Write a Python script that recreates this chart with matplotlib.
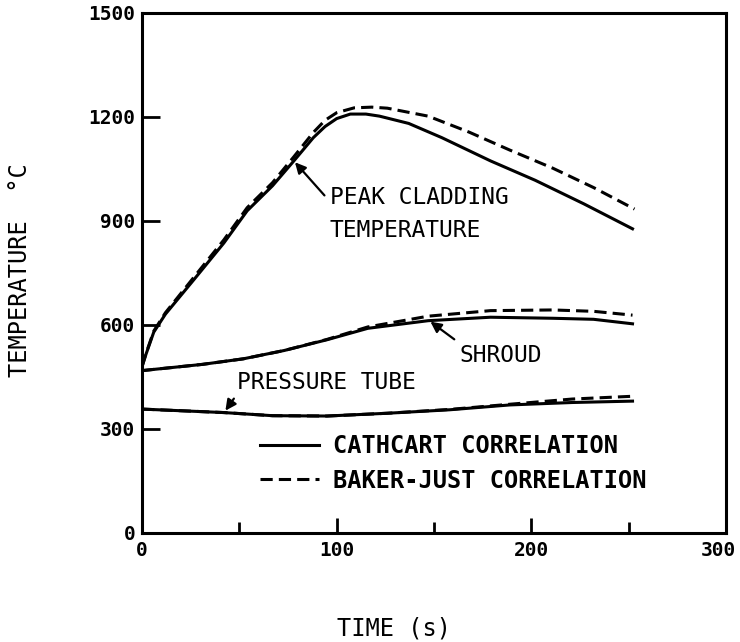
import matplotlib
matplotlib.use("Agg")
import matplotlib.pyplot as plt
import matplotlib.transforms as mtransforms
from matplotlib.ticker import MultipleLocator

# ---- DATA ----
# peak cladding temperature
peak_t = [0, 2, 6, 12, 27, 42, 54, 67, 78, 88, 94, 100, 107, 115, 122, 137, 154, 179, 202, 227, 252]
peak_cathcart = [480, 515, 579, 631, 733, 836, 929, 1001, 1073, 1140, 1172, 1195, 1208, 1208, 1202,
                 1181, 1140, 1073, 1017, 949, 877]
peak_bj_t = [0, 2, 6, 12, 27, 42, 54, 67, 78, 88, 94, 100, 109, 118, 126, 147, 168, 189, 211, 232, 253]
peak_bakerjust = [480, 517, 582, 635, 740, 845, 938, 1010, 1085, 1155, 1190, 1212, 1226, 1228, 1225,
                  1202, 1156, 1104, 1052, 996, 934]

# shroud
shroud_t = [0, 31, 52, 73, 95, 116, 147, 179, 211, 232, 252]
shroud_cathcart = [468, 486, 502, 526, 557, 590, 612, 622, 619, 616, 603]
shroud_bj_t = [0, 31, 52, 73, 95, 116, 147, 179, 211, 232, 252]
shroud_bakerjust = [468, 486, 502, 526, 558, 594, 625, 641, 643, 639, 628]

# pressure tube
ptube_t = [0, 42, 67, 95, 126, 158, 189, 221, 252]
ptube_cathcart = [357, 347, 338, 337, 345, 355, 369, 376, 380]
ptube_bj_t = [0, 42, 67, 95, 126, 158, 189, 221, 252]
ptube_bakerjust = [357, 347, 338, 337, 345, 356, 371, 386, 394]

x_ticks = [0, 100, 200, 300]
y_ticks = [0, 300, 600, 900, 1200, 1500]

MONO = "DejaVu Sans Mono"


def main():
    fig = plt.figure(figsize=(7.4, 6.42), dpi=100)
    ax = fig.add_axes([0.192, 0.170, 0.789, 0.810])

    lw = 2.2
    dash = (4, 2)
    ax.plot(peak_t, peak_cathcart, color="black", lw=lw, label="CATHCART CORRELATION")
    ax.plot(peak_bj_t, peak_bakerjust, color="black", lw=lw, dashes=dash,
            label="BAKER-JUST CORRELATION")
    ax.plot(shroud_t, shroud_cathcart, color="black", lw=lw)
    ax.plot(shroud_bj_t, shroud_bakerjust, color="black", lw=lw, dashes=dash)
    ax.plot(ptube_t, ptube_cathcart, color="black", lw=lw)
    ax.plot(ptube_bj_t, ptube_bakerjust, color="black", lw=lw, dashes=dash)

    ax.set_xlim(0, 300)
    ax.set_ylim(0, 1500)

    for s in ax.spines.values():
        s.set_linewidth(2.2)

    ax.set_xticks(x_ticks)
    ax.set_yticks(y_ticks)
    ax.xaxis.set_minor_locator(MultipleLocator(50))
    ax.tick_params(axis="x", which="major", direction="in", length=11, width=2, pad=6,
                   labelsize=14)
    ax.tick_params(axis="x", which="minor", direction="in", length=8, width=2)
    ax.tick_params(axis="y", which="major", direction="in", length=13, width=2, pad=5,
                   labelsize=14)
    ax.tick_params(top=False, right=False)
    for lab in ax.get_xticklabels() + ax.get_yticklabels():
        lab.set_fontfamily(MONO)
        lab.set_fontweight("bold")

    # the "300" label sits at the figure edge; pull it in a little
    last = ax.xaxis.get_major_ticks()[-1].label1
    last.set_horizontalalignment("right")
    last.set_transform(last.get_transform() +
                       mtransforms.ScaledTranslation(7 / 72, 0, fig.dpi_scale_trans))

    ax.set_xlabel("TIME (s)", fontfamily=MONO, fontsize=17, va="center")
    ax.xaxis.set_label_coords(0.431, -0.183)
    ax.set_ylabel("TEMPERATURE  °C", fontfamily=MONO, fontsize=17, va="center")
    ax.yaxis.set_label_coords(-0.209, 0.506)

    # ---- ANNOTATIONS ----
    arrow = dict(arrowstyle="-|>", color="black", lw=1.6, mutation_scale=16)
    ax.annotate("PEAK CLADDING\nTEMPERATURE", xy=(77.6, 1075), xytext=(96.5, 919),
                fontfamily=MONO, fontsize=16.5, va="center", ha="left", linespacing=1.55,
                arrowprops=dict(arrow, relpos=(-0.02, 0.8)))
    ax.annotate("SHROUD", xy=(147, 614), xytext=(163, 513),
                fontfamily=MONO, fontsize=16.5, va="center", ha="left",
                arrowprops=dict(arrow, relpos=(-0.03, 1.1)))
    ax.annotate("PRESSURE TUBE", xy=(42, 346), xytext=(49, 435),
                fontfamily=MONO, fontsize=16.5, va="center", ha="left",
                arrowprops=dict(arrow, relpos=(0, 0)))

    ax.legend(loc="upper left", bbox_to_anchor=(0.202, 0.19), frameon=False,
              prop=dict(family=MONO, weight="bold", size=17),
              handlelength=2.5, handletextpad=0.6, labelspacing=0.45,
              borderpad=0, borderaxespad=0)

    fig.savefig("out.png", dpi=100)


if __name__ == "__main__":
    main()
